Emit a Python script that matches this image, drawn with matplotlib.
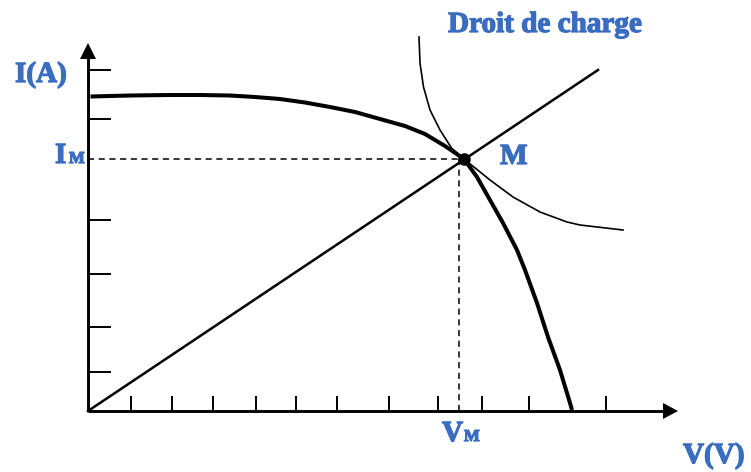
import numpy as np
import matplotlib.pyplot as plt
import matplotlib.patheffects as pe

# I-V characteristic of the panel (V in volts, I in amps)
v_pv = [0.05, 0.84, 1.64, 2.24, 2.84, 3.34, 3.84, 4.34, 4.84, 5.34, 5.84, 6.34, 6.74, 7.14,
        7.52, 7.78, 8.04, 8.3, 8.58, 8.74, 8.98, 9.2, 9.44, 9.64, 9.68]
i_pv = [6.29, 6.31, 6.32, 6.32, 6.31, 6.28, 6.24, 6.17, 6.08, 5.98, 5.84, 5.7, 5.54, 5.3,
        5.04, 4.68, 4.22, 3.76, 3.22, 2.82, 2.16, 1.48, 0.82, 0.16, 0.02]

# load line (resistive) from origin
v_load = [0.0, 10.2]
i_load = [0.0, 6.82]

# constant-power curve through the operating point
v_hyp = [6.62, 6.64, 6.71, 6.84, 7.04, 7.27, 7.52, 8.04, 8.5, 9.04, 9.58, 9.84, 10.7]
i_hyp = [7.48, 6.96, 6.48, 6.02, 5.62, 5.26, 5.04, 4.62, 4.28, 3.98, 3.78, 3.72, 3.62]

# operating point M
V_M = 7.52
I_M = 5.04

# axis ticks
x_ticks = [0.86, 1.68, 2.5, 3.36, 4.16, 4.98, 6.02, 7.0, 7.88, 8.82, 10.36]
y_ticks = [6.82, 5.84, 3.82, 2.74, 1.68, 0.78]

blue = '#3a6cc0'
font = ['Liberation Serif', 'DejaVu Serif']

fig = plt.figure(figsize=(7.51, 4.72), dpi=100)
ax = fig.add_axes([0, 0, 1, 1])
ax.set_xlim(-1.76, 13.26)
ax.set_ylim(-1.22, 8.22)
ax.axis('off')

# axes with arrow heads
ax.plot([0, 0], [0, 7.1], color='black', lw=2.1, solid_capstyle='butt')
ax.plot([0, 11.55], [0, 0], color='black', lw=2.1, solid_capstyle='butt')
ax.fill([-0.16, 0, 0.16], [7.04, 7.36, 7.04], color='black', lw=0)
ax.fill([11.5, 11.8, 11.5], [0.16, 0, -0.16], color='black', lw=0)

for t in x_ticks:
    ax.plot([t, t], [0, 0.28], color='black', lw=1.4)
for t in y_ticks:
    ax.plot([0, 0.43], [t, t], color='black', lw=1.4)

# dashed guides to M
ax.plot([0, V_M], [I_M, I_M], color='black', lw=1.1, ls=(0, (4, 3)))
ax.plot([V_M - 0.1, V_M - 0.1], [0, I_M], color='black', lw=1.1, ls=(0, (4, 3)))

ax.plot(v_load, i_load, color='black', lw=1.8)
ax.plot(v_hyp, i_hyp, color='black', lw=1.2)
ax.plot(v_pv, i_pv, color='black', lw=2.9, solid_capstyle='butt', solid_joinstyle='round')
ax.plot([V_M], [I_M], 'o', color='black', ms=8)

# labels
heavy = [pe.withStroke(linewidth=0.9, foreground=blue)]
big = dict(color=blue, fontsize=21, fontweight='bold', family=font, va='baseline', ha='left',
           path_effects=heavy)
small = dict(color=blue, fontsize=12, fontweight='bold', family=font, va='baseline', ha='left',
             path_effects=heavy)
ax.text(-1.46, 6.58, 'I(A)', **big)
ax.text(-0.66, 4.96, 'I', **big)
ax.text(-0.38, 4.96, 'M', **small)
ax.text(8.24, 4.94, 'M', **big)
ax.text(7.08, -0.6, 'V', **big)
ax.text(7.52, -0.6, 'M', **small)
ax.text(11.9, -1.04, 'V(V)', **big)
ax.text(7.2, 7.58, 'Droit de charge', **big)

fig.savefig('out.png', dpi=100)
